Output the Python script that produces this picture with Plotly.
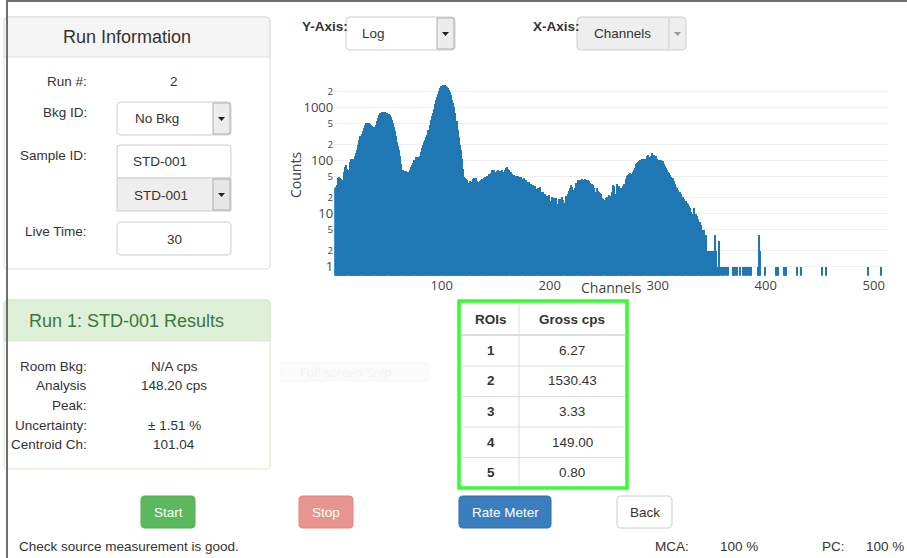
import plotly.graph_objects as go

# ---------------- data ----------------
# counts per channel, channels 1..358
dense_counts = [
    30, 32, 35, 48, 50, 48, 45, 43, 44, 60, 75, 83, 70, 67, 95, 108, 105, 108, 110, 125,
    140, 160, 200, 250, 290, 320, 360, 420, 480, 505, 510, 515, 510, 490, 470, 450, 440, 437, 480, 560,
    650, 730, 780, 810, 830, 840, 840, 830, 810, 790, 760, 720, 660, 590, 510, 437, 360, 290, 230, 190,
    160, 120, 85, 67, 64, 62, 63, 60, 62, 60, 68, 75, 83, 90, 105, 116, 118, 115, 119, 125,
    145, 170, 200, 229, 250, 280, 300, 380, 470, 580, 700, 780, 950, 1150, 1400, 1620, 1850, 2100, 2350, 2550,
    2690, 2700, 2650, 2600, 2450, 2350, 2150, 2000, 1700, 1410, 1200, 1050, 800, 550, 380, 280, 200, 160, 110, 70,
    50, 47, 46, 44, 38, 42, 40, 38, 45, 48, 48, 47, 42, 37, 40, 42, 44, 45, 47, 50,
    47, 52, 50, 55, 52, 58, 67, 60, 67, 62, 65, 67, 60, 65, 62, 66, 58, 62, 68, 72,
    75, 70, 66, 62, 55, 50, 53, 50, 52, 48, 51, 50, 47, 49, 46, 47, 42, 44, 40, 38,
    40, 34, 36, 33, 35, 30, 33, 29, 31, 30, 32, 26, 24, 26, 22, 24, 19, 22, 21, 23,
    17, 21, 19, 20, 18, 20, 15, 15, 19, 18, 19, 21, 18, 16, 22, 21, 24, 27, 30, 35,
    32, 28, 24, 30, 38, 43, 42, 44, 40, 45, 44, 42, 45, 43, 40, 44, 42, 38, 36, 35,
    30, 26, 23, 31, 27, 26, 25, 24, 20, 19, 18, 20, 21, 21, 23, 22, 22, 26, 35, 34,
    24, 22, 37, 33, 30, 31, 29, 33, 37, 36, 45, 52, 54, 55, 58, 57, 62, 66, 72, 85,
    92, 96, 98, 102, 104, 106, 105, 108, 110, 120, 128, 118, 110, 125, 137, 130, 126, 122, 124, 110,
    102, 100, 101, 98, 100, 88, 80, 72, 66, 62, 58, 54, 50, 48, 42, 36, 32, 30, 28, 26,
    26, 24, 21, 21, 19, 17, 16, 15, 14, 13, 11, 8, 10, 13, 10, 10, 9, 8, 7, 6,
    5, 5, 5, 3, 4, 2, 1, 2, 1, 2, 2, 2, 4, 2, 1, 1, 3, 1,
]
dense_channels = list(range(1, len(dense_counts) + 1))

# sparse tail (non-zero channels only)
tail_channels = [360, 361, 363, 364, 365, 370, 371, 372, 374, 376, 379, 380, 382, 383, 385,
                 386, 387, 393, 394, 395, 400, 410, 411, 412, 417, 418, 419, 429, 433, 452,
                 456, 495, 507]
tail_counts = [1, 1, 1, 1, 1, 1, 1, 1, 1, 1, 1, 1, 1, 1, 1,
               1, 1, 1, 4, 2, 1, 1, 1, 1, 1, 1, 1, 1, 1, 1,
               1, 1, 1]

channels = dense_channels + tail_channels
counts = dense_counts + tail_counts

x_ticks = [100, 200, 300, 400, 500]

roi_ids = ["1", "2", "3", "4", "5"]
roi_gross_cps = ["6.27", "1530.43", "3.33", "149.00", "0.80"]

run_info_labels = ["Run #:", "Bkg ID:", "Sample ID:", "Live Time:"]
result_labels = ["Room Bkg:", "Analysis", "Peak:", "Uncertainty:", "Centroid Ch:"]
result_values = ["N/A cps", "148.20 cps", "", "\u00b1 1.51 %", "101.04"]

# ---------------- helpers ----------------
W, H = 907, 558


def X(p):
    return p / W


def Y(p):
    return 1 - p / H


UI = "Liberation Sans, Arial, sans-serif"
CH = "Open Sans, verdana, arial, sans-serif"

shapes = []
annotations = []


def rect(x0, y0, x1, y1, fill=None, line=None, lw=1):
    shapes.append(dict(type="rect", xref="paper", yref="paper",
                       x0=X(x0), x1=X(x1), y0=Y(y1), y1=Y(y0),
                       fillcolor=fill or "rgba(0,0,0,0)",
                       line=dict(color=line or "rgba(0,0,0,0)", width=lw if line else 0)))


def seg(x0, y0, x1, y1, color, lw=1):
    shapes.append(dict(type="line", xref="paper", yref="paper",
                       x0=X(x0), x1=X(x1), y0=Y(y0), y1=Y(y1),
                       line=dict(color=color, width=lw)))


def rounded(x0, y0, x1, y1, r, fill, line=None, lw=1, rt=True, rb=True):
    f = lambda x, y: f"{X(x):.5f},{Y(y):.5f}"
    if rt:
        p = f"M{f(x0, y0 + r)} Q{f(x0, y0)} {f(x0 + r, y0)} L{f(x1 - r, y0)} Q{f(x1, y0)} {f(x1, y0 + r)} "
    else:
        p = f"M{f(x0, y0)} L{f(x1, y0)} "
    if rb:
        p += f"L{f(x1, y1 - r)} Q{f(x1, y1)} {f(x1 - r, y1)} L{f(x0 + r, y1)} Q{f(x0, y1)} {f(x0, y1 - r)} Z"
    else:
        p += f"L{f(x1, y1)} L{f(x0, y1)} Z"
    shapes.append(dict(type="path", xref="paper", yref="paper", path=p,
                       fillcolor=fill,
                       line=dict(color=line or "rgba(0,0,0,0)", width=lw if line else 0)))


def caret(cx, cy, color="#222", w=7, h=4):
    f = lambda x, y: f"{X(x):.5f},{Y(y):.5f}"
    p = f"M{f(cx - w / 2, cy - h / 2)} L{f(cx + w / 2, cy - h / 2)} L{f(cx, cy + h / 2)} Z"
    shapes.append(dict(type="path", xref="paper", yref="paper", path=p,
                       fillcolor=color, line=dict(width=0)))


def text(x, y, s, size=14, color="#333", anchor="center", bold=False, family=UI, angle=0):
    annotations.append(dict(xref="paper", yref="paper", x=X(x), y=Y(y),
                            text=f"<b>{s}</b>" if bold else s, showarrow=False,
                            xanchor=anchor, yanchor="middle", textangle=angle,
                            font=dict(family=family, size=size, color=color)))


# ---------------- panel 1: Run Information ----------------
rounded(4, 17, 270, 269, 4, "white", "#dddddd")
rounded(4, 17, 270, 57, 4, "#f5f5f5", "#dddddd", rb=False)
text(127, 37, "Run Information", size=18)

label_y = [82, 112, 155, 232]
for lab, ly in zip(run_info_labels, label_y):
    text(89, ly, lab, size=13.5, anchor="right")
text(174, 82, "2", size=13.5)

# Bkg ID select
rounded(117, 102, 231, 135, 4, "white", "#cccccc")
rect(213, 103, 230, 134, "#ececec", "#adadad")
caret(221.5, 119)
text(157, 118.5, "No Bkg", size=13.5)

# Sample ID input + select
rounded(117, 145, 231, 178, 3, "white", "#cccccc")
text(131, 161.5, "STD-001", size=13.5, anchor="left")
rect(117, 178, 231, 211, "#eeeeee", "#cccccc")
rect(213, 179, 230, 210, "#e6e6e6", "#adadad")
caret(221.5, 195)
text(161, 195, "STD-001", size=13.5)

# Live time input
rounded(117, 222, 231, 255, 4, "white", "#cccccc")
text(174, 239.5, "30", size=13.5)

# ---------------- panel 2: Results ----------------
rounded(4, 300, 270, 469, 4, "white", "#d6e9c6")
rounded(4, 300, 270, 341, 4, "#dff0d8", "#d6e9c6", rb=False)
text(127, 321, "Run 1: STD-001 Results", size=18, color="#3c763d")
res_y = [366, 385.5, 405, 425, 444]
for lab, val, ry in zip(result_labels, result_values, res_y):
    text(89, ry, lab, size=13.5, anchor="right")
    if val:
        text(174, ry, val, size=13.5)

# faint screen-snip overlay
rect(281, 363, 428, 381, "#fbfbfb", "#f5f5f5")
text(298, 372, "Full-screen Snip", size=12.5, color="#f2f2f2", anchor="left", family=CH)

# ---------------- top controls ----------------
text(300, 27, "Y-Axis:", size=13.5, anchor="left", bold=True)
rounded(346, 17, 455, 50, 4, "white", "#cccccc")
rect(437, 18, 454, 49, "#ececec", "#adadad")
caret(445.5, 34)
text(373, 33.5, "Log", size=13.5)

text(531, 27, "X-Axis:", size=13.5, anchor="left", bold=True)
rounded(577, 17, 686, 50, 4, "#eeeeee", "#cccccc")
seg(669, 18, 669, 49, "#cccccc")
caret(677.5, 34, color="#999999")
text(622, 33.5, "Channels", size=13.5)

# ---------------- ROI table ----------------
rect(459, 301, 627, 488, "white", "#33ff33", lw=3.5)
seg(519, 303, 519, 486, "#dddddd")
seg(461, 335, 625, 335, "#dddddd", lw=2)
row_y = [350.5, 381, 411.5, 442, 472]
sep_y = [366, 396.5, 427, 457.5]
for sy in sep_y:
    seg(461, sy, 625, sy, "#dddddd")
text(491, 319, "ROIs", size=13.5, bold=True)
text(572, 319, "Gross cps", size=13.5, bold=True)
for rid, val, ry in zip(roi_ids, roi_gross_cps, row_y):
    text(491, ry, rid, size=13.5, bold=True)
    text(572, ry, val, size=13.5)

# ---------------- buttons ----------------
rounded(141, 496, 195, 528, 4, "#5cb85c", "#4cae4c")
text(168, 512, "Start", size=13.5, color="white")
rounded(299, 496, 353, 528, 4, "#e8958f", "#e4847f")
text(326, 512, "Stop", size=13.5, color="white")
rounded(459, 496, 551, 528, 4, "#3a7ebf", "#2e6da4")
text(505, 512, "Rate Meter", size=13.5, color="white")
rounded(617, 496, 672, 528, 4, "white", "#cccccc")
text(644.5, 512, "Back", size=13.5, color="#333")

# ---------------- status line ----------------
text(17, 546, "Check source measurement is good.", size=13.5, anchor="left")
text(653, 546, "MCA:", size=13.5, anchor="left")
text(718, 546, "100 %", size=13.5, anchor="left")
text(820, 546, "PC:", size=13.5, anchor="left")
text(864, 546, "100 %", size=13.5, anchor="left")

# ---------------- frame ----------------
seg(7, 1, 907, 1, "#6e6e6e", lw=2)
seg(7, 0, 7, 558, "#6e6e6e", lw=2)

# ---------------- chart titles ----------------
text(295, 175, "Counts", size=14, color="#444", family=CH, angle=-90)
text(611, 287, "Channels", size=14, color="#444", family=CH)

# ---------------- figure ----------------
fig = go.Figure(go.Bar(x=channels, y=counts, marker=dict(color="#1f77b4", line=dict(width=0)),
                       hoverinfo="x+y"))

fig.update_layout(
    template="none",
    width=W, height=H, autosize=False,
    margin=dict(l=0, r=0, t=0, b=0, pad=0),
    paper_bgcolor="white", plot_bgcolor="white",
    bargap=0,
    showlegend=False,
    font=dict(family=CH, color="#444"),
    xaxis=dict(domain=[X(334.2), X(887.2)], range=[0.5, 512.5],
               tickvals=x_ticks, showgrid=False, zeroline=False, showline=False,
               ticks="", tickfont=dict(size=13, color="#444"), automargin=False),
    yaxis=dict(domain=[Y(275.7), Y(84)], type="log", range=[-0.17, 3.447],
               dtick="D2", showgrid=True, gridcolor="#eeeeee", zeroline=False,
               showline=False, ticks="", tickfont=dict(size=13, color="#444"),
               automargin=False),
    shapes=shapes,
    annotations=annotations,
)

fig.write_html("out.html", config={"displayModeBar": False},
               post_script="document.body.style.margin='0';")
